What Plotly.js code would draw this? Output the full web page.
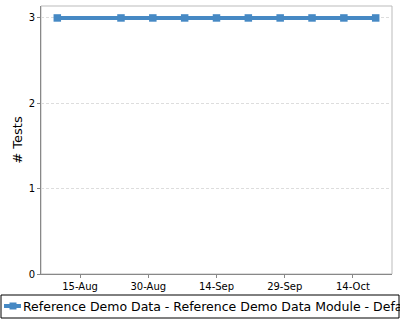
<!DOCTYPE html>
<html>
<head>
<meta charset="utf-8">
<script src="https://cdn.plot.ly/plotly-3.0.1.min.js"></script>
<style>html,body{margin:0;padding:0;background:#fff;overflow:hidden;}#chart{width:400px;height:320px;}</style>
</head>
<body>
<div id="chart"></div>
<script>
const dates = ["2013-08-10","2013-08-24","2013-08-31","2013-09-07","2013-09-14","2013-09-21","2013-09-28","2013-10-05","2013-10-12","2013-10-19"];
const tests = [3,3,3,3,3,3,3,3,3,3];
const seriesName = "Reference Demo Data - Reference Demo Data Module - Default";
const tickDates = ["2013-08-15","2013-08-30","2013-09-14","2013-09-29","2013-10-14"];
const tickLabels = ["15-Aug","30-Aug","14-Sep","29-Sep","14-Oct"];
const yTicks = [0,1,2,3];

const color = "rgb(70,137,196)";
const trace = {
  x: dates, y: tests, type: "scatter", mode: "lines+markers", name: seriesName,
  line: {color: color, width: 4},
  marker: {symbol: "square", size: 7.5, color: color},
  showlegend: false
};
// legend drawn in paper coordinates (plot area: x 41..392 px, y 6..274 px)
const px = p => (p - 41) / 351;
const py = p => (274 - p) / 268;
const layout = {
  width: 400, height: 320,
  margin: {l: 41, r: 8, t: 6, b: 46},
  paper_bgcolor: "#fff", plot_bgcolor: "#fff",
  font: {family: "DejaVu Sans", color: "#000"},
  showlegend: false,
  xaxis: {
    type: "date", range: ["2013-08-06 10:00", "2013-10-22 14:00"],
    tickvals: tickDates, ticktext: tickLabels, automargin: false,
    showgrid: false, zeroline: false,
    showline: true, linecolor: "#888", linewidth: 1,
    ticks: "outside", ticklen: 3, tickcolor: "#888",
    tickfont: {size: 10, color: "#000"}
  },
  yaxis: {
    range: [0, 3.14], tickvals: yTicks, automargin: false,
    showgrid: true, gridcolor: "#ddd", griddash: "3px,2px", gridwidth: 1,
    zeroline: false, showline: true, linecolor: "#888", linewidth: 1,
    ticks: "outside", ticklen: 3, tickcolor: "#888",
    tickfont: {size: 10, color: "#000"},
    title: {text: "# Tests", font: {size: 13, color: "#000"}, standoff: 3}
  },
  shapes: [
    {type: "rect", xref: "paper", yref: "paper", x0: 0, x1: 1, y0: 0, y1: 1,
     line: {color: "#bbb", width: 1}, layer: "below"},
    {type: "rect", xref: "paper", yref: "paper", x0: px(1), x1: px(399), y0: py(295), y1: py(318),
     line: {color: "#000", width: 1}, layer: "above"},
    {type: "line", xref: "paper", yref: "paper", x0: px(4), x1: px(21), y0: py(306), y1: py(306),
     line: {color: color, width: 4}, layer: "above"},
    {type: "rect", xref: "paper", yref: "paper", x0: px(9.5), x1: px(16.5), y0: py(302.5), y1: py(309.5),
     fillcolor: color, line: {width: 0}, layer: "above"}
  ],
  annotations: [
    {xref: "paper", yref: "paper", x: px(22), y: py(306), xanchor: "left", yanchor: "middle",
     text: seriesName, showarrow: false, font: {size: 12.5, color: "#000"}, borderpad: 0}
  ]
};
Plotly.newPlot("chart", [trace], layout, {displayModeBar: false, staticPlot: true});
</script>
</body>
</html>
